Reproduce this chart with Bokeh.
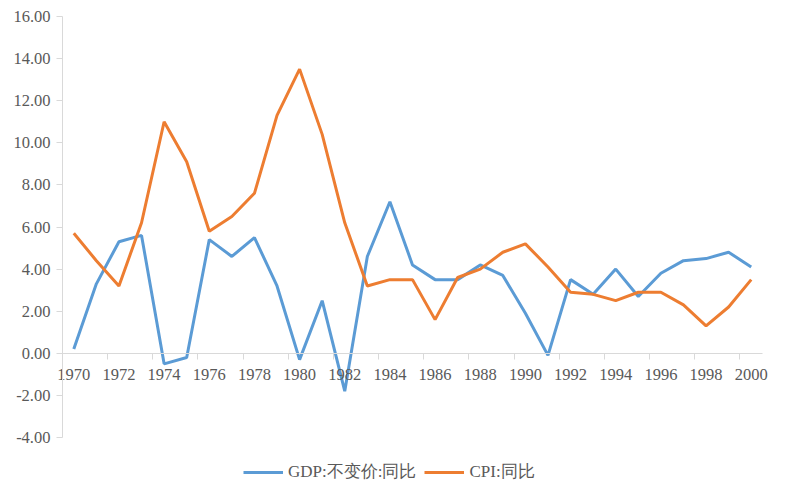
from bokeh.plotting import figure
from bokeh.models import (LinearAxis, FixedTicker, Range1d, NumeralTickFormatter,
                          CustomJSTickFormatter, Legend, LegendItem, ColumnDataSource)
from bokeh.embed import file_html
from bokeh.resources import INLINE

years = list(range(1970, 2001))
gdp = [0.2, 3.3, 5.3, 5.6, -0.5, -0.2, 5.4, 4.6, 5.5, 3.2,
       -0.3, 2.5, -1.8, 4.6, 7.2, 4.2, 3.5, 3.5, 4.2, 3.7,
       1.9, -0.1, 3.5, 2.8, 4.0, 2.7, 3.8, 4.4, 4.5, 4.8, 4.1]
cpi = [5.7, 4.4, 3.2, 6.2, 11.0, 9.1, 5.8, 6.5, 7.6, 11.3,
       13.5, 10.4, 6.2, 3.2, 3.5, 3.5, 1.6, 3.6, 4.0, 4.8,
       5.2, 4.1, 2.9, 2.8, 2.5, 2.9, 2.9, 2.3, 1.3, 2.2, 3.5]
x_labels = list(range(1970, 2001, 2))
y_ticks = list(range(-4, 17, 2))
series_names = ["GDP:不变价:同比", "CPI:同比"]

FONT = "'Liberation Serif'"
TXT = "#595959"
AX = "#d9d9d9"

W, H = 786, 491
# axis box in pixels (frame covers the whole figure so labels are not clipped)
AX_L, AX_R, AX_T, AX_B = 62, 762, 16, 437
x0, x1 = years[0] - 0.5, years[-1] + 0.5
y0, y1 = -4, 16
sx = (AX_R - AX_L) / (x1 - x0)
sy = (AX_B - AX_T) / (y1 - y0)
xr = Range1d(x0 - AX_L / sx, x1 + (W - AX_R) / sx)
yr = Range1d(y0 - (H - AX_B) / sy, y1 + AX_T / sy)

src = ColumnDataSource(dict(year=years, gdp=gdp, cpi=cpi))

p = figure(width=W, height=H, output_backend="svg", toolbar_location=None,
           x_range=xr, y_range=yr, x_axis_location=None, y_axis_location=None,
           min_border=0)
p.outline_line_color = None
p.xgrid.visible = False
p.ygrid.visible = False
p.background_fill_color = "white"
p.border_fill_color = "white"

yax = LinearAxis(fixed_location=x0, bounds=(y0, y1),
                 ticker=FixedTicker(ticks=y_ticks),
                 formatter=NumeralTickFormatter(format="0.00"))
yax.axis_line_color = AX
yax.major_tick_line_color = AX
yax.major_tick_out = 6
yax.major_tick_in = 0
yax.minor_tick_line_color = None
yax.major_label_standoff = 6
yax.major_label_text_font = FONT
yax.major_label_text_font_size = "16.5px"
yax.major_label_text_color = TXT
p.add_layout(yax, "left")

# axis with tick marks between categories
tick_ax = LinearAxis(fixed_location=0, bounds=(x0, x1),
                     ticker=FixedTicker(ticks=[y - 0.5 for y in x_labels]),
                     formatter=CustomJSTickFormatter(code="return ''"))
tick_ax.axis_line_color = AX
tick_ax.major_tick_line_color = AX
tick_ax.major_tick_out = 6
tick_ax.major_tick_in = 0
tick_ax.minor_tick_line_color = None
p.add_layout(tick_ax, "below")

# axis carrying the year labels
lab_ax = LinearAxis(fixed_location=0, bounds=(x0, x1), ticker=FixedTicker(ticks=x_labels))
lab_ax.axis_line_color = None
lab_ax.major_tick_line_color = None
lab_ax.minor_tick_line_color = None
lab_ax.major_tick_out = 0
lab_ax.major_tick_in = 0
lab_ax.major_label_standoff = 16
lab_ax.major_label_text_font = FONT
lab_ax.major_label_text_font_size = "16.5px"
lab_ax.major_label_text_color = TXT
p.add_layout(lab_ax, "below")

r1 = p.line("year", "gdp", source=src, line_color="#5B9BD5", line_width=3)
r2 = p.line("year", "cpi", source=src, line_color="#ED7D31", line_width=3)

legend = Legend(items=[LegendItem(label=series_names[0], renderers=[r1]),
                       LegendItem(label=series_names[1], renderers=[r2])],
                orientation="horizontal", location=(243, 8),
                glyph_width=40, glyph_height=20, label_standoff=5, spacing=8,
                padding=0, margin=0, border_line_color=None, background_fill_alpha=0,
                label_text_font=FONT, label_text_font_size="17px", label_text_color=TXT)
p.add_layout(legend, "center")

open("out.html", "w").write(file_html(p, INLINE))
